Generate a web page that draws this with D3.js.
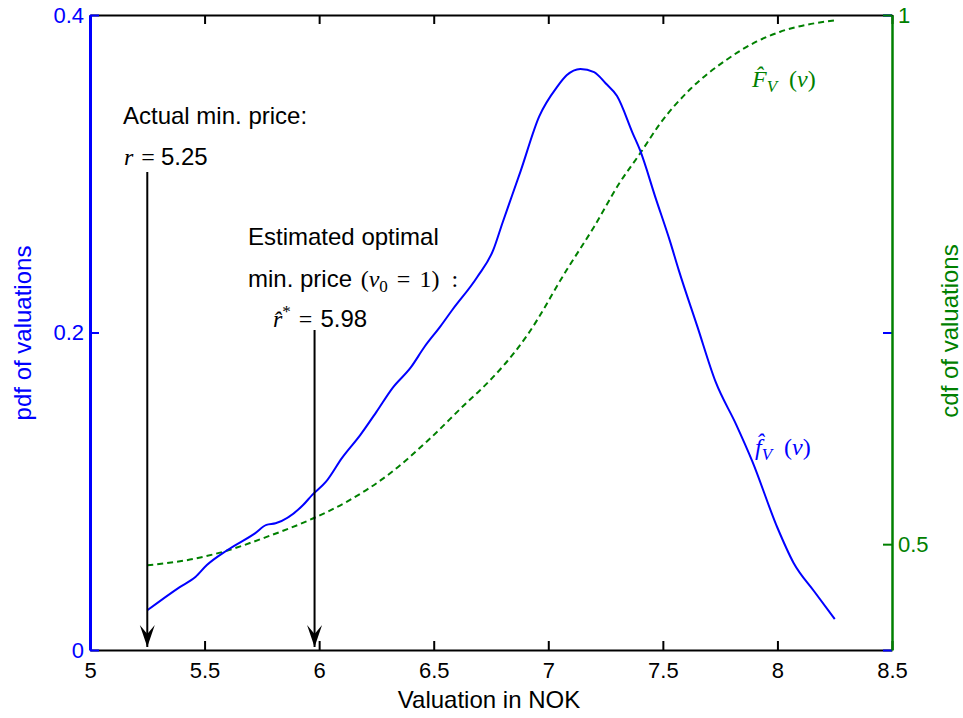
<!DOCTYPE html>
<html>
<head>
<meta charset="utf-8">
<script src="https://cdn.jsdelivr.net/npm/d3@7"></script>
<style>
  body { margin: 0; background: #fff; }
  text { font-family: "Liberation Sans", Arial, sans-serif; }
  .math { font-family: "Liberation Serif", "Times New Roman", serif; }
</style>
</head>
<body>
<div id="chart"></div>
<script>
// valuations (NOK) and estimated pdf
var pdfX = [5.25, 5.39, 5.46, 5.51, 5.6, 5.72, 5.77, 5.81, 5.93, 5.97, 6.03, 6.1, 6.18, 6.25, 6.32,
    6.4, 6.46, 6.53, 6.58, 6.69, 6.76, 6.8, 6.88, 6.96, 7.04, 7.08, 7.14, 7.2, 7.25, 7.3, 7.37,
    7.4, 7.47, 7.53, 7.57, 7.65, 7.73, 7.82, 7.89, 8.0, 8.07, 8.16, 8.25];
var pdfY = [0.025, 0.0395, 0.046, 0.0535, 0.063, 0.0735, 0.0788, 0.0798, 0.0913, 0.0977, 0.106, 0.121, 0.1355, 0.15, 0.165,
    0.178, 0.191, 0.204, 0.214, 0.235, 0.252, 0.269, 0.302, 0.336, 0.355, 0.362, 0.366, 0.364, 0.357, 0.349, 0.325,
    0.315, 0.284, 0.258, 0.239, 0.204, 0.169, 0.142, 0.119, 0.077, 0.055, 0.037, 0.0195];

// estimated cdf
var cdfX = [5.25, 5.45, 5.6, 5.76, 5.97, 6.12, 6.31, 6.47, 6.66, 6.7, 6.91, 7.08, 7.2, 7.31, 7.4,
    7.49, 7.62, 7.78, 7.91, 8.01, 8.25];
var cdfY = [0.48, 0.486, 0.494, 0.506, 0.524, 0.54, 0.567, 0.597, 0.637, 0.645, 0.698, 0.759, 0.8, 0.841, 0.869,
    0.898, 0.93, 0.958, 0.975, 0.984, 0.995];

var xTicks = [5, 5.5, 6, 6.5, 7, 7.5, 8, 8.5];
var pdfTicks = [0, 0.2, 0.4];
var cdfTicks = [0.5, 1];

var actualPrice = 5.25;
var optimalPrice = 5.98;

var blue = "#0000ff", green = "#008000";

var margin = { top: 15, right: 71, bottom: 68, left: 90 },
    width = 963 - margin.left - margin.right,
    height = 718 - margin.top - margin.bottom;

var svg = d3.select("#chart")
    .append("svg")
    .attr("width", 963)
    .attr("height", 718);

// arrow head pointing along +x, rotated onto the line
svg.append("defs").append("marker")
    .attr("id", "head")
    .attr("markerUnits", "userSpaceOnUse")
    .attr("viewBox", "-23 -8 24 16")
    .attr("refX", 0).attr("refY", 0)
    .attr("markerWidth", 24).attr("markerHeight", 16)
    .attr("orient", "auto")
    .append("path")
    .attr("d", "M0,0 L-22,-7.5 L-13,0 L-22,7.5 Z")
    .attr("fill", "#000");

var g = svg.append("g")
    .attr("transform", "translate(" + margin.left + "," + margin.top + ")");

var x = d3.scaleLinear().domain([5, 8.5]).range([0, width]);
var yPdf = d3.scaleLinear().domain([0, 0.4]).range([height, 0]);
var yCdf = d3.scaleLinear().domain([0.4, 1]).range([height, 0]);

// curves
var pdfData = pdfX.map(function(d, i) { return [d, pdfY[i]]; });
var cdfData = cdfX.map(function(d, i) { return [d, cdfY[i]]; });

g.append("path")
    .datum(cdfData)
    .attr("fill", "none")
    .attr("stroke", green)
    .attr("stroke-width", 2)
    .attr("stroke-dasharray", "6,4")
    .attr("d", d3.line().curve(d3.curveMonotoneX)
        .x(function(d) { return x(d[0]); })
        .y(function(d) { return yCdf(d[1]); }));

g.append("path")
    .datum(pdfData)
    .attr("fill", "none")
    .attr("stroke", blue)
    .attr("stroke-width", 2)
    .attr("d", d3.line().curve(d3.curveMonotoneX)
        .x(function(d) { return x(d[0]); })
        .y(function(d) { return yPdf(d[1]); }));

// arrows
g.append("line")
    .attr("x1", x(actualPrice)).attr("x2", x(actualPrice))
    .attr("y1", 157).attr("y2", height - 3)
    .attr("stroke", "#000").attr("stroke-width", 2)
    .attr("marker-end", "url(#head)");

g.append("line")
    .attr("x1", x(optimalPrice)).attr("x2", x(optimalPrice))
    .attr("y1", 315).attr("y2", height - 3)
    .attr("stroke", "#000").attr("stroke-width", 2)
    .attr("marker-end", "url(#head)");

// axes (ticks inward, box)
var tickLen = 9;
g.append("g")
    .attr("transform", "translate(0," + height + ")")
    .call(d3.axisBottom(x).tickValues(xTicks).tickSizeInner(-tickLen).tickSizeOuter(0).tickPadding(12)
        .tickFormat(d3.format("")))
    .call(function(a) {
        a.select(".domain").attr("stroke", "#000").attr("stroke-width", 2);
        a.selectAll(".tick line").attr("stroke", "#000").attr("stroke-width", 2);
        a.selectAll("text").attr("font-size", 22).attr("fill", "#000");
    });

g.append("g")
    .call(d3.axisTop(x).tickValues(xTicks).tickSizeInner(-tickLen).tickSizeOuter(0).tickFormat(""))
    .call(function(a) {
        a.select(".domain").attr("stroke", "#000").attr("stroke-width", 2);
        a.selectAll(".tick line").attr("stroke", "#000").attr("stroke-width", 2);
    });

g.append("g")
    .attr("transform", "translate(" + width + ",0)")
    .call(d3.axisLeft(yPdf).tickValues(pdfTicks).tickSizeInner(tickLen).tickSizeOuter(0).tickFormat(""))
    .call(function(a) {
        a.select(".domain").remove();
        a.selectAll(".tick line").attr("stroke", blue).attr("stroke-width", 2);
    });

g.append("g")
    .attr("transform", "translate(" + width + ",0)")
    .call(d3.axisRight(yCdf).tickValues(cdfTicks).tickSizeInner(-tickLen).tickSizeOuter(0).tickPadding(6)
        .tickFormat(d3.format("")))
    .call(function(a) {
        a.select(".domain").attr("stroke", green).attr("stroke-width", 2.5);
        a.selectAll(".tick line").attr("stroke", green).attr("stroke-width", 2);
        a.selectAll("text").attr("font-size", 22).attr("fill", green);
    });

g.append("g")
    .call(d3.axisLeft(yPdf).tickValues(pdfTicks).tickSizeInner(-tickLen).tickSizeOuter(0).tickPadding(6)
        .tickFormat(d3.format("")))
    .call(function(a) {
        a.select(".domain").attr("stroke", blue).attr("stroke-width", 3);
        a.selectAll(".tick line").attr("stroke", blue).attr("stroke-width", 2);
        a.selectAll("text").attr("font-size", 22).attr("fill", blue);
    });

// axis titles
svg.append("text")
    .attr("x", 489).attr("y", 708)
    .attr("text-anchor", "middle")
    .attr("font-size", 24)
    .text("Valuation in NOK");

svg.append("text")
    .attr("transform", "translate(31,333) rotate(-90)")
    .attr("text-anchor", "middle")
    .attr("font-size", 24)
    .attr("fill", blue)
    .text("pdf of valuations");

svg.append("text")
    .attr("transform", "translate(958,331) rotate(-90)")
    .attr("text-anchor", "middle")
    .attr("font-size", 24)
    .attr("fill", green)
    .text("cdf of valuations");

// annotations
svg.append("text").attr("x", 123).attr("y", 124).attr("font-size", 24).text("Actual min. price:");

var t1 = svg.append("text").attr("x", 124).attr("y", 165).attr("font-size", 24);
t1.append("tspan").attr("class", "math").attr("font-style", "italic").text("r");
t1.append("tspan").attr("class", "math").attr("dx", 8).text("=");
t1.append("tspan").attr("dx", 6).text(actualPrice.toFixed(2));

svg.append("text").attr("x", 248).attr("y", 245).attr("font-size", 24).text("Estimated optimal");

var t2 = svg.append("text").attr("x", 248).attr("y", 287).attr("font-size", 24);
t2.append("tspan").text("min. price ");
t2.append("tspan").attr("class", "math").attr("dx", 2).text("(");
t2.append("tspan").attr("class", "math").attr("font-style", "italic").text("v");
t2.append("tspan").attr("class", "math").attr("font-size", 17).attr("dy", 5).text("0");
t2.append("tspan").attr("class", "math").attr("dy", -5).attr("dx", 9).text("=");
t2.append("tspan").attr("class", "math").attr("dx", 9).text("1)");
t2.append("tspan").attr("class", "math").attr("dx", 12).text(":");

var t3 = svg.append("text").attr("x", 273).attr("y", 327).attr("font-size", 24);
t3.append("tspan").attr("class", "math").attr("font-style", "italic").text("r\u0302");
t3.append("tspan").attr("class", "math").attr("font-size", 17).attr("dy", -10).text("*");
t3.append("tspan").attr("class", "math").attr("dy", 10).attr("dx", 8).text("=");
t3.append("tspan").attr("dx", 8).text(optimalPrice.toFixed(2));

// curve labels
function curveLabel(sym, px, py, color) {
    var t = svg.append("text").attr("class", "math").attr("x", px).attr("y", py)
        .attr("font-size", 24).attr("fill", color);
    t.append("tspan").attr("font-style", "italic").text(sym + "\u0302");
    t.append("tspan").attr("font-style", "italic").attr("font-size", 17).attr("dy", 5).text("V");
    t.append("tspan").attr("dy", -5).attr("dx", 12).text("(");
    t.append("tspan").attr("font-style", "italic").text("v");
    t.append("tspan").text(")");
}
curveLabel("F", 752, 87, green);
curveLabel("f", 755, 455, blue);
</script>
</body>
</html>
